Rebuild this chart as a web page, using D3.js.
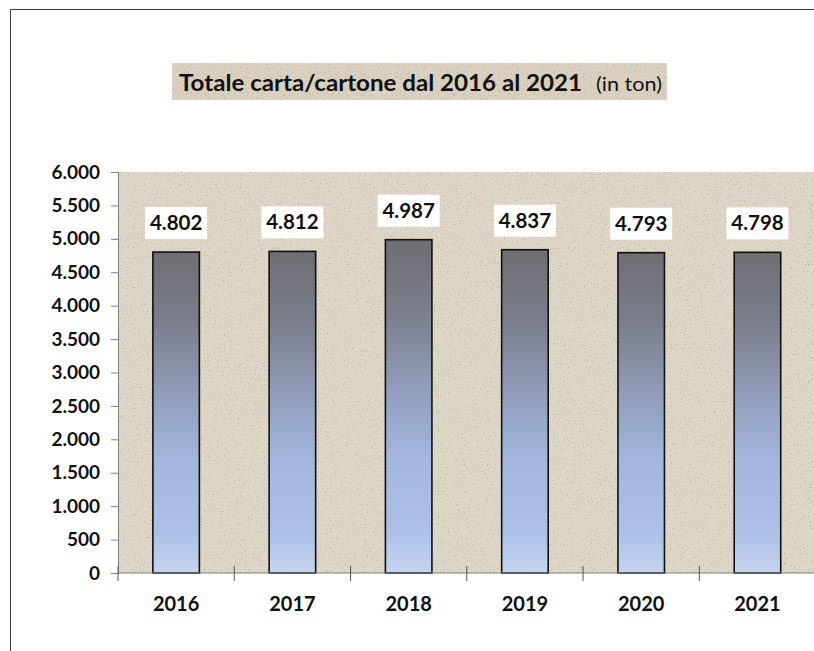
<!DOCTYPE html>
<html>
<head>
<meta charset="utf-8">
<script src="https://cdn.jsdelivr.net/npm/d3@7"></script>
<style>
  body { margin: 0; background: #fff; }
  svg { display: block; font-family: Lato, "Open Sans", sans-serif; }
</style>
</head>
<body>
<script>
// data
const years = ['2016', '2017', '2018', '2019', '2020', '2021']
const totals = [4802, 4812, 4987, 4837, 4793, 4798]
const yTicks = [0, 500, 1000, 1500, 2000, 2500, 3000, 3500, 4000, 4500, 5000, 5500, 6000]

const m = { width: 814, height: 651, left: 118, right: 815.6, top: 172, bottom: 573 }

const svg = d3.select('body').append('svg')
    .attr('width', m.width)
    .attr('height', m.height)

const defs = svg.append('defs')

// paper-like speckled texture
const f = defs.append('filter').attr('id', 'paper')
    .attr('x', 0).attr('y', 0).attr('width', 1).attr('height', 1)
f.append('feTurbulence').attr('type', 'fractalNoise')
    .attr('baseFrequency', 0.7).attr('numOctaves', 2).attr('seed', 7).attr('result', 'noise')
f.append('feColorMatrix').attr('in', 'noise').attr('type', 'matrix')
    .attr('values', '0 0 0 0 0.50  0 0 0 0 0.45  0 0 0 0 0.38  8 0 0 0 -5.1')
    .attr('result', 'dots')
f.append('feComposite').attr('in', 'dots').attr('in2', 'SourceAlpha').attr('operator', 'in').attr('result', 'dotsIn')
const merge = f.append('feMerge')
merge.append('feMergeNode').attr('in', 'SourceGraphic')
merge.append('feMergeNode').attr('in', 'dotsIn')

// bar gradient
const grad = defs.append('linearGradient').attr('id', 'barGrad')
    .attr('x1', 0).attr('y1', 0).attr('x2', 0).attr('y2', 1)
grad.append('stop').attr('offset', '0%').attr('stop-color', '#6e6e73')
grad.append('stop').attr('offset', '22%').attr('stop-color', '#7b7e8b')
grad.append('stop').attr('offset', '42%').attr('stop-color', '#8e9ab6')
grad.append('stop').attr('offset', '65%').attr('stop-color', '#a3b6de')
grad.append('stop').attr('offset', '88%').attr('stop-color', '#adc1e8')
grad.append('stop').attr('offset', '100%').attr('stop-color', '#c6d4ee')

// outer frame
svg.append('path')
    .attr('d', 'M10.5,651 V9.5 H814')
    .attr('fill', 'none')
    .attr('stroke', '#3a3a3a')

// title
svg.append('rect')
    .attr('x', 172).attr('y', 63).attr('width', 495).attr('height', 37)
    .attr('fill', '#d9d0bf')
    .attr('filter', 'url(#paper)')
const title = svg.append('text')
    .attr('x', 179).attr('y', 91)
    .attr('fill', '#111')
title.append('tspan')
    .attr('font-size', 23.5).attr('font-weight', 'bold')
    .attr('textLength', 403).attr('lengthAdjust', 'spacingAndGlyphs')
    .text('Totale carta/cartone dal 2016 al 2021')
title.append('tspan')
    .attr('x', 596)
    .attr('font-size', 20)
    .attr('textLength', 66).attr('lengthAdjust', 'spacingAndGlyphs')
    .text('(in ton)')

// scales
const x = d3.scaleBand()
    .domain(years)
    .range([m.left, m.right])
    .paddingInner(0.6)
    .paddingOuter(0.3)

const y = d3.scaleLinear()
    .domain([0, 6000])
    .range([m.bottom, m.top])

// plot area
svg.append('rect')
    .attr('x', m.left).attr('y', m.top)
    .attr('width', m.right - m.left).attr('height', m.bottom - m.top)
    .attr('fill', '#ddd5c5')
    .attr('filter', 'url(#paper)')

// y axis
const it = d3.formatLocale({ decimal: ',', thousands: '.', grouping: [3], currency: ['', ''] })
const yAxis = svg.append('g')
    .attr('transform', `translate(${m.left},0)`)
    .call(d3.axisLeft(y).tickValues(yTicks).tickSize(7).tickPadding(11).tickFormat(it.format(',d')))
yAxis.select('.domain').attr('stroke', '#7f7f7f')
yAxis.selectAll('.tick line').attr('stroke', '#7f7f7f')
yAxis.selectAll('.tick text')
    .attr('font-size', 19).attr('font-weight', 'bold').attr('fill', '#111')
    .attr('font-family', 'Lato, sans-serif')

// bars
svg.selectAll('.bar')
    .data(years)
    .enter()
    .append('rect')
        .attr('class', 'bar')
        .attr('x', d => x(d))
        .attr('y', (d, i) => y(totals[i]))
        .attr('width', x.bandwidth())
        .attr('height', (d, i) => y(0) - y(totals[i]))
        .attr('fill', 'url(#barGrad)')
        .attr('stroke', '#111')
        .attr('stroke-width', 1.6)

// x axis
const xg = svg.append('g')
xg.append('line')
    .attr('x1', m.left).attr('x2', m.width)
    .attr('y1', y(0)).attr('y2', y(0))
    .attr('stroke', '#7f7f7f')
const bounds = d3.range(years.length + 1).map(i => m.left + i * x.step())
xg.selectAll('.xt')
    .data(bounds)
    .enter()
    .append('line')
        .attr('x1', d => d).attr('x2', d => d)
        .attr('y1', y(0) - 7).attr('y2', y(0) + 8)
        .attr('stroke', '#555')
xg.selectAll('.xl')
    .data(years)
    .enter()
    .append('text')
        .attr('x', d => x(d) + x.bandwidth() / 2)
        .attr('y', 611)
        .attr('text-anchor', 'middle')
        .attr('font-size', 20).attr('font-weight', 'bold').attr('fill', '#111')
        .text(d => d)

// value labels
const lab = svg.selectAll('.lab')
    .data(years)
    .enter()
    .append('g')
        .attr('transform', (d, i) => `translate(${x(d) + x.bandwidth() / 2},${y(totals[i]) - 13})`)
lab.append('rect')
    .attr('x', -31).attr('y', -32).attr('width', 62).attr('height', 32)
    .attr('fill', '#fff')
lab.append('text')
    .attr('y', -9)
    .attr('text-anchor', 'middle')
    .attr('font-size', 20.5).attr('font-weight', 'bold').attr('fill', '#111')
    .text((d, i) => it.format(',d')(totals[i]))
</script>
</body>
</html>
